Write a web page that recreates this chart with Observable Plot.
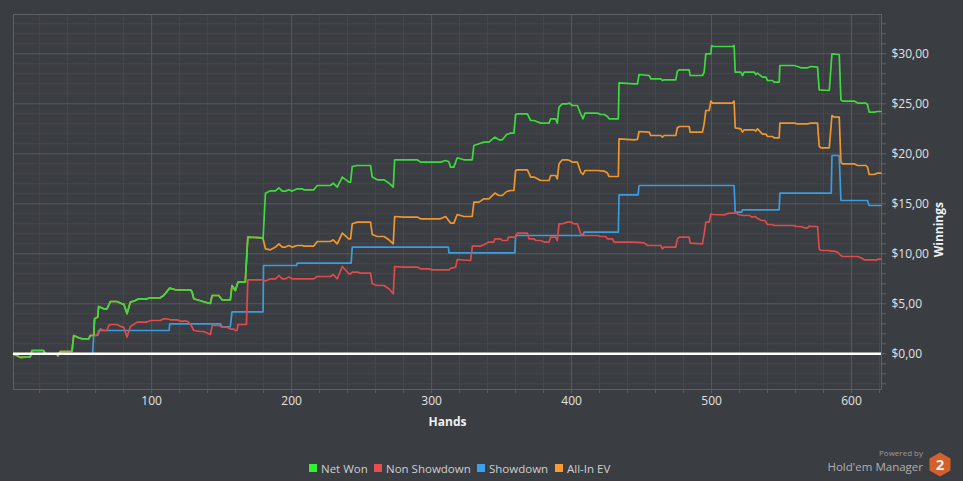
<!DOCTYPE html>
<html>
<head>
<meta charset="utf-8">
<script src="https://cdn.jsdelivr.net/npm/d3@7"></script>
<script src="https://cdn.jsdelivr.net/npm/@observablehq/plot@0.6"></script>
<style>
  html, body { margin: 0; padding: 0; background: #3a3d41; }
  #wrap { position: relative; width: 963px; height: 481px; background: #3a3d41; font-family: "Open Sans", sans-serif; overflow: hidden; }
  #chart svg { display: block; }
  .leg { position: absolute; top: 459px; height: 18px; display: flex; align-items: center; font-size: 11.5px; color: #cfcfcf; white-space: nowrap; }
  .leg i { display: inline-block; width: 8px; height: 8px; margin-right: 4px; }
  #pw1 { position: absolute; right: 40px; top: 449px; font-size: 8px; line-height: 8px; color: #9a9a9a; }
  #pw2 { position: absolute; right: 40px; top: 461px; font-size: 11.5px; line-height: 12px; color: #b0b0b0; }
  #logo { position: absolute; left: 929px; top: 452px; }
</style>
</head>
<body>
<div id="wrap">
  <div id="chart"></div>
  <div id="legend"></div>
  <div id="pw1">Powered by</div>
  <div id="pw2">Hold'em Manager</div>
  <svg id="logo" width="22" height="25" viewBox="0 0 22 25">
    <polygon points="11,0.5 21.5,6.5 21.5,18.5 11,24.5 0.5,18.5 0.5,6.5" fill="#d4612a"/>
    <text x="11" y="18" text-anchor="middle" font-family="Open Sans, sans-serif" font-weight="bold" font-size="15" fill="#f2f2f2">2</text>
  </svg>
</div>
<script>
// ---- Data: [hand, winnings $] ----
const netWon = [
  [1.4,-0.05],[6.1,-0.35],[13.3,-0.3],[14.5,0.33],[22.8,0.33],[24,0.0],[32.3,0.0],[33,-0.2],[34.7,0.23],[43.1,0.23],
  [44.3,1.83],[47.8,1.6],[50.2,1.5],[55,1.5],[56.2,1.83],[58.6,1.83],[59.2,3.5],[61.5,3.67],[62.1,4.73],[65.7,4.5],
  [68.1,4.5],[70.5,5.23],[75.2,5.23],[78.8,5.0],[80,5.0],[82.4,4.0],[84.8,5.17],[88.4,5.33],[90.7,5.5],[96.7,5.5],
  [99.1,5.6],[106.2,5.6],[108.6,5.83],[112.9,6.57],[117,6.4],[127.7,6.4],[128.9,6.17],[130.1,5.5],[134.8,5.3],[139.6,5.1],
  [142,5.05],[143.2,5.83],[147.9,5.83],[150.3,5.4],[156.2,5.4],[157.4,6.83],[159.8,6.33],[161.7,7.17],[166.9,7.17],[168.7,11.67],
  [178.9,11.6],[179.6,11.5],[181.3,16.06],[184.9,16.3],[188.5,16.3],[190.9,16.6],[193.3,16.27],[195.6,16.27],[198,16.4],[200.4,16.27],
  [204,16.5],[207.5,16.5],[208.7,16.4],[215.9,16.4],[218.3,16.83],[227.8,16.83],[229.7,17.07],[232.6,16.67],[236.2,17.67],[240.9,17.17],
  [242.1,17.17],[243.3,18.73],[246.9,18.83],[256.4,18.83],[257.6,17.67],[261.2,17.4],[266,17.4],[269.5,17.07],[272.6,16.67],[273.6,19.4],
  [289.7,19.4],[292.1,19.17],[306.4,19.17],[310,19.33],[312.3,19.2],[313.5,18.67],[315.9,18.67],[318.3,19.6],[323.1,19.4],[329,19.4],
  [330.2,20.83],[333.8,21.0],[337.4,21.17],[340.9,21.17],[345.2,21.67],[348.1,21.4],[350.5,21.4],[353.6,21.93],[356.4,22.07],[358.8,22.07],
  [360,23.9],[361.2,24.0],[368.4,24.0],[370.8,23.33],[373.2,23.33],[377.9,23.07],[383.9,23.07],[385.1,23.5],[388.6,23.5],[389.8,23.07],
  [391,24.67],[393.4,25.0],[397,25.0],[398.6,25.07],[400.5,24.83],[404.1,24.83],[406.5,24.0],[408.2,23.5],[409.6,24.07],[418.4,24.07],
  [420.8,23.93],[423.2,23.93],[425.6,23.73],[426.8,23.5],[433.4,23.5],[433.9,27.1],[444.7,27.0],[447.1,27.0],[448.2,27.93],[455.4,27.83],
  [456.6,27.5],[463.7,27.5],[464.9,27.33],[466.1,27.4],[474.4,27.4],[475.6,28.27],[477,28.4],[484,28.4],[484.7,27.83],[493.5,27.83],
  [494.7,28.17],[495.9,30.0],[499.5,30.0],[500,30.83],[501,30.73],[515,30.73],[516.1,30.83],[516.9,28.17],[520.9,28.17],[522.1,27.83],
  [523.3,28.17],[530.4,28.17],[531.6,27.93],[532.8,28.07],[536.4,27.67],[538.8,27.67],[540,27.33],[543.5,27.33],[544.7,27.17],[548.3,27.17],
  [548.8,28.83],[559,28.83],[561.4,28.73],[563.8,28.6],[568.6,28.6],[570.9,28.73],[575.7,28.67],[576.9,26.4],[584.1,26.33],[586,30.0],
  [591.2,29.93],[592.4,25.4],[593.6,25.27],[601.9,25.27],[604.3,25.07],[610.3,25.07],[611.4,24.93],[612.6,24.17],[616.2,24.17],[618.6,24.23],[621,24.23]
];
const nonShowdown = [
  [1.4,-0.05],[6.1,-0.35],[13.3,-0.3],[14.5,0.33],[22.8,0.33],[24,0.0],[32.3,0.0],[33,-0.2],[34.7,0.23],[43.1,0.23],
  [44.3,1.83],[47.8,1.6],[50.2,1.5],[55,1.5],[56.2,1.83],[59.7,1.83],[62.1,2.0],[63.3,2.5],[65.7,2.33],[68.1,2.33],
  [69.3,2.83],[70.5,2.93],[75.2,2.93],[78.8,2.67],[80,2.67],[82.4,1.67],[84.8,2.73],[87.2,2.93],[89.6,3.17],[96.7,3.17],
  [99.1,3.33],[106.2,3.33],[108.6,3.5],[111,3.5],[113.4,3.4],[118.1,3.4],[120.5,3.27],[125.3,3.27],[127.7,3.0],[130.1,2.33],
  [134.8,2.23],[137.2,2.23],[139.6,2.07],[142,1.93],[143.2,2.83],[147.9,2.83],[150.3,2.67],[153.9,2.67],[156.2,2.47],[158.6,2.47],
  [159.8,2.33],[161,2.33],[161.7,2.93],[167.7,2.93],[168.7,7.4],[179.6,7.4],[181.3,7.27],[184.9,7.5],[188.5,7.5],[190.9,7.83],
  [193.3,7.5],[195.6,7.5],[198,7.67],[200.4,7.5],[215.9,7.5],[218.3,7.73],[227.8,7.73],[229.7,7.93],[232.6,7.5],[236.2,8.73],
  [240.9,8.0],[242.1,8.0],[243.3,8.17],[246.9,8.17],[249,8.07],[256.4,8.07],[257.6,7.0],[261.2,6.83],[266,6.83],[269.5,6.5],
  [272.6,6.0],[273.6,8.73],[280.2,8.67],[289.8,8.67],[292,8.5],[298,8.5],[301,8.4],[312.4,8.4],[313.6,8.55],[317.2,8.67],
  [318.3,9.43],[327.9,9.33],[329.1,10.77],[335,10.77],[337.4,10.9],[340.9,11.17],[344.4,11.17],[345.2,11.5],[349.3,11.5],[350.5,11.33],
  [354,11.33],[355,11.67],[360,11.67],[361.2,12.07],[368.4,12.07],[369.6,11.5],[373.2,11.5],[374.4,11.33],[377.9,11.33],[380.3,11.17],
  [383.9,11.17],[385.1,11.67],[388.6,11.67],[389.8,11.33],[391,13.0],[393.4,13.0],[397,13.17],[399.4,13.17],[401.7,13.0],[404.1,13.0],
  [406.5,12.0],[408.9,11.83],[418.4,11.83],[420.8,11.73],[424.4,11.73],[425.6,11.5],[429.2,11.5],[430.4,11.17],[444.7,11.17],[451.8,11.1],
  [454.2,10.83],[463.7,10.83],[464.9,10.5],[466.1,10.67],[474.4,10.67],[475.6,11.5],[477,11.67],[484,11.67],[484.7,11.07],[493.5,11.0],
  [494.7,12.0],[495.9,13.17],[498.3,13.17],[499.5,14.0],[500.7,13.93],[509.5,13.9],[510.7,14.0],[513.1,14.07],[517.9,14.07],[519.1,13.93],
  [522.6,13.83],[527.4,13.83],[528.6,13.67],[531,13.73],[533.3,13.5],[535.7,13.33],[538.1,13.33],[540,12.93],[543.5,12.93],[544.7,12.83],
  [559,12.83],[560.2,12.73],[563.8,12.73],[566.2,12.6],[568.6,12.6],[569.8,12.77],[571,12.73],[575.7,12.73],[576.9,10.5],[578.1,10.33],
  [584.1,10.33],[585.3,10.27],[587.6,10.27],[590,10.17],[592.4,9.83],[593.6,9.73],[604.3,9.73],[606.7,9.6],[609.1,9.4],[616.2,9.4],
  [617.4,9.33],[618.6,9.47],[621,9.47]
];
const showdown = [
  [1.4,0],[57.8,0],[58.6,1.83],[61.5,1.83],[62.1,2.33],[112.5,2.33],[112.9,3.0],[149.1,3.0],[150.3,2.7],[156.2,2.7],
  [157.4,4.2],[179.6,4.2],[179.9,8.83],[203.5,8.83],[204,9.07],[242.5,9.07],[243.3,10.67],[312,10.67],[312.4,10.1],[359.5,10.1],
  [360,11.83],[408.2,11.83],[408.9,12.17],[433.4,12.17],[433.9,15.9],[447.5,15.9],[448.2,16.83],[516.1,16.83],[516.9,14.17],[521.5,14.17],
  [522.1,14.4],[548.3,14.4],[548.8,16.07],[585.5,16.07],[586,19.83],[591.2,19.83],[592.4,15.33],[611.4,15.33],[612.6,14.83],[621,14.83]
];
const allInEV = [
  [1.4,-0.05],[6.1,-0.35],[13.3,-0.3],[14.5,0.33],[22.8,0.33],[24,0.0],[32.3,0.0],[33,-0.2],[34.7,0.23],[43.1,0.23],
  [44.3,1.83],[47.8,1.6],[50.2,1.5],[55,1.5],[56.2,1.83],[58.6,1.83],[59.2,3.5],[61.5,3.67],[62.1,4.73],[65.7,4.5],
  [68.1,4.5],[70.5,5.23],[75.2,5.23],[78.8,5.0],[80,5.0],[82.4,4.0],[84.8,5.17],[88.4,5.33],[90.7,5.5],[96.7,5.5],
  [99.1,5.6],[106.2,5.6],[108.6,5.83],[112.9,6.57],[117,6.4],[127.7,6.4],[128.9,6.17],[130.1,5.5],[134.8,5.3],[139.6,5.1],
  [142,5.05],[143.2,5.83],[147.9,5.83],[150.3,5.4],[156.2,5.4],[157.4,6.83],[159.8,6.33],[161.7,7.17],[166.9,7.17],[168.7,11.67],
  [178.9,11.6],[179.6,11.5],[181.3,10.5],[184.9,10.4],[188.5,10.67],[190.9,11.0],[193.3,10.67],[195.6,10.67],[198,10.83],[200.4,10.67],
  [204,10.83],[207.5,10.83],[208.7,10.77],[215.9,10.77],[218.3,11.23],[227.8,11.23],[229.7,11.4],[232.6,11.0],[236.2,12.07],[240.9,11.5],
  [242.1,11.5],[243.3,13.0],[246.9,13.17],[256.4,13.17],[257.6,11.93],[261.2,11.73],[266,11.73],[269.5,11.4],[272.6,11.0],[273.6,13.73],
  [280.2,13.67],[289.8,13.67],[292.1,13.5],[306.4,13.5],[310,13.73],[313.5,13.07],[315.9,13.07],[318.3,13.93],[323.1,13.73],[329,13.73],
  [330.2,15.17],[333.8,15.17],[337.4,15.5],[340.9,15.5],[345.2,16.07],[348.1,15.83],[350.5,15.83],[353.6,16.23],[356.4,16.33],[358.8,16.33],
  [360,18.33],[361.2,18.4],[368.4,18.4],[370.8,17.67],[373.2,17.67],[377.9,17.33],[383.9,17.33],[385.1,17.83],[388.6,17.83],[389.8,17.5],
  [391,19.0],[393.4,19.4],[397,19.4],[398.6,19.33],[400.5,19.17],[404.1,19.17],[406.5,18.17],[408.2,17.93],[409.6,18.33],[418.4,18.33],
  [423.2,18.27],[425.6,18.07],[426.8,17.73],[433.4,17.73],[433.9,21.5],[444.7,21.4],[447.1,21.45],[448.2,22.23],[455.4,22.17],[456.6,21.83],
  [463.7,21.83],[464.9,21.67],[466.1,21.83],[474.4,21.83],[475.6,22.6],[477,22.73],[484,22.73],[484.7,22.17],[493.5,22.17],[494.7,23.0],
  [495.9,24.33],[498.3,24.33],[499.5,25.27],[500.7,25.07],[515,25.07],[516.1,25.27],[516.9,22.6],[520.9,22.5],[522.1,22.17],[523.3,22.4],
  [530.4,22.4],[531.6,22.27],[532.8,22.5],[536.4,21.97],[538.8,21.97],[540,21.73],[543.5,21.73],[544.7,21.6],[548.3,21.6],[548.8,23.07],
  [559,23.07],[561.4,23.0],[568.6,23.0],[570.9,23.07],[575.7,23.07],[576.9,20.77],[578.1,20.6],[584.1,20.6],[586,23.83],[587.6,23.67],
  [591.2,23.67],[592.4,19.17],[593.6,19.0],[601.9,19.0],[604.3,18.83],[610.3,18.83],[611.4,18.67],[612.6,17.93],[616.2,17.93],[618.6,18.07],[621,18.07]
];

const seriesNames = ["Net Won", "Non Showdown", "Showdown", "All-In EV"];
const seriesColors = ["#3ddc3d", "#e04a4a", "#3a9de0", "#f0962f"];
const legendSwatch = ["#33f033", "#ea4d4d", "#3aa2ea", "#fb9a35"];
const xMajorTicks = [100, 200, 300, 400, 500, 600];
const xMinorTicks = d3.range(20, 621, 20);
const yTicks = d3.range(-3, 34, 1);
const axisTitles = ["Hands", "Winnings"];

const fmt = d => "$" + d.toFixed(2).replace(".", ",");

const plot = Plot.plot({
  width: 963,
  height: 440,
  marginLeft: 13,
  marginRight: 82,
  marginTop: 14,
  marginBottom: 51,
  style: { background: "transparent", color: "#dcdcdc", fontFamily: "Open Sans, sans-serif", fontSize: "12px" },
  x: { type: "linear", domain: [1.3, 621.4] },
  y: { type: "linear", domain: [-3.57, 33.93] },
  marks: [
    Plot.ruleY(yTicks.filter(d => d % 5 !== 0), { stroke: "#46494d", strokeWidth: 1 }),
    Plot.ruleX(xMinorTicks.filter(d => d % 100 !== 0), { stroke: "#46494d", strokeWidth: 1 }),
    Plot.ruleY(yTicks.filter(d => d % 5 === 0), { stroke: "#56595d", strokeWidth: 1 }),
    Plot.ruleX(xMajorTicks, { stroke: "#56595d", strokeWidth: 1 }),
    Plot.frame({ stroke: "#5e6165" }),
    Plot.axisX({ ticks: xMinorTicks, tickSize: 4, tickPadding: 3, stroke: "#5e6165", fill: "#e2e2e2",
      tickFormat: d => (d % 100 === 0 ? String(d) : ""), label: null }),
    Plot.axisY({ anchor: "right", ticks: yTicks, tickSize: 4, tickPadding: 6, stroke: "#5e6165", fill: "#e2e2e2",
      tickFormat: d => (d % 5 === 0 ? fmt(d) : ""), label: null }),
    Plot.line(allInEV, { x: d => d[0], y: d => d[1], stroke: seriesColors[3], strokeWidth: 1.7 }),
    Plot.line(showdown, { x: d => d[0], y: d => d[1], stroke: seriesColors[2], strokeWidth: 1.7 }),
    Plot.line(nonShowdown, { x: d => d[0], y: d => d[1], stroke: seriesColors[1], strokeWidth: 1.7 }),
    Plot.line(netWon, { x: d => d[0], y: d => d[1], stroke: seriesColors[0], strokeWidth: 1.7 }),
    Plot.ruleY([0], { stroke: "#ffffff", strokeWidth: 2.6 }),
    Plot.text([axisTitles[0]], { frameAnchor: "bottom", text: d => d, dy: 36, fill: "#f0f0f0", fontWeight: "bold", fontSize: 12 }),
    Plot.text([axisTitles[1]], { frameAnchor: "right", text: d => d, dx: 58, rotate: -90, fill: "#f0f0f0", fontWeight: "bold", fontSize: 12 })
  ]
});
document.getElementById("chart").appendChild(plot);

// Legend (HTML, below the SVG)
const legendLeft = [309, 374, 477, 555];
const legend = document.getElementById("legend");
seriesNames.forEach((name, i) => {
  const el = document.createElement("div");
  el.className = "leg";
  el.style.left = legendLeft[i] + "px";
  el.innerHTML = `<i style="background:${legendSwatch[i]}"></i><span>${name}</span>`;
  legend.appendChild(el);
});
</script>
</body>
</html>
